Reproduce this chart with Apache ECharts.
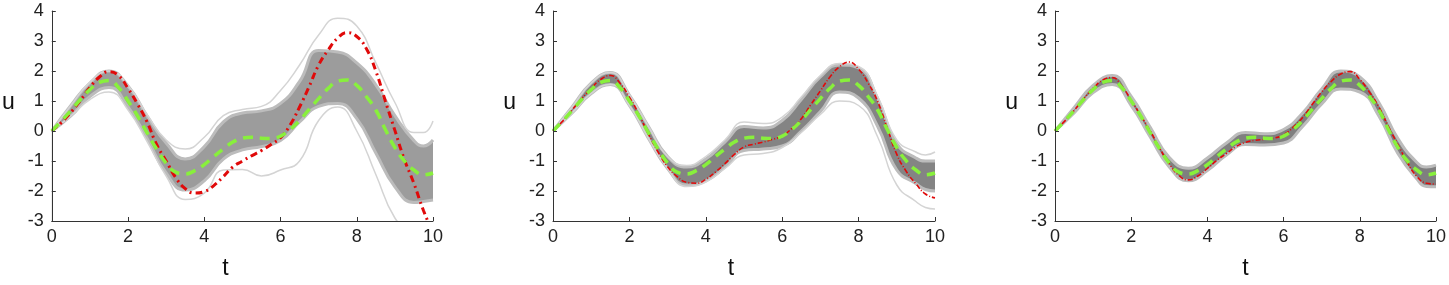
<!DOCTYPE html>
<html><head><meta charset="utf-8">
<script src="https://cdn.jsdelivr.net/npm/echarts@6/dist/echarts.min.js"></script>
<style>html,body{margin:0;padding:0;background:#fff}#c{width:1449px;height:285px}</style>
</head><body><div id="c"></div>
<script>
// fine time grid for the red and green curves
const T = [0,0.25,0.5,0.75,1,1.25,1.5,1.75,2,2.25,2.5,2.75,3,3.25,3.5,3.75,4,4.25,4.5,4.75,5,5.25,5.5,5.75,6,6.25,6.5,6.75,7,7.25,7.5,7.75,8,8.25,8.5,8.75,9,9.25,9.5,9.75,10];
// ensemble mean (green dashed), same in every panel
const meanU = [0,0.33,0.68,1.05,1.38,1.62,1.68,1.45,1.0,0.5,-0.06,-0.6,-1.07,-1.37,-1.43,-1.32,-1.12,-0.85,-0.6,-0.37,-0.24,-0.21,-0.24,-0.25,-0.17,0.05,0.35,0.72,1.08,1.42,1.66,1.7,1.52,1.15,0.7,0.05,-0.55,-1.0,-1.3,-1.46,-1.4];
// red dash-dot curves
const red1 = [0,0.28,0.62,1.02,1.45,1.8,1.98,1.85,1.42,0.9,0.3,-0.45,-1.0,-1.55,-1.92,-2.07,-2.02,-1.82,-1.52,-1.2,-1.0,-0.82,-0.65,-0.45,-0.22,0.2,0.8,1.48,2.2,2.7,3.1,3.28,3.15,2.75,2.0,1.0,0.02,-0.95,-1.75,-2.65,-3.4];
const red2 = [0,0.32,0.7,1.08,1.42,1.72,1.85,1.6,1.13,0.55,-0.11,-0.7,-1.19,-1.52,-1.71,-1.74,-1.61,-1.37,-1.09,-0.78,-0.53,-0.44,-0.37,-0.28,-0.16,0.08,0.41,0.88,1.34,1.8,2.14,2.3,2.06,1.6,0.98,0.1,-0.78,-1.35,-1.76,-2.1,-2.23];
const red3 = [0,0.32,0.68,1.07,1.42,1.7,1.78,1.5,1.03,0.52,0.0,-0.58,-1.1,-1.48,-1.63,-1.5,-1.25,-0.98,-0.75,-0.52,-0.38,-0.31,-0.28,-0.24,-0.12,0.12,0.45,0.88,1.3,1.65,1.9,1.98,1.72,1.3,0.8,0.15,-0.45,-1.05,-1.52,-1.74,-1.77];
// coarser time grid for the gray ensemble
const TB = [0,0.5,1,1.5,2,2.5,3,3.5,4,4.5,5,5.5,6,6.5,7,7.5,8,8.5,9,9.5,9.75,10];
// gray ensemble: dense core band and outermost members
const p1Low = [0,0.5,1.15,1.45,0.8,-0.25,-1.4,-1.97,-1.66,-0.94,-0.63,-0.52,-0.32,0.3,0.82,0.92,0.41,-0.73,-1.86,-2.38,-2.35,-2.3];
const p1High = [0,0.85,1.6,2.0,1.5,0.5,-0.4,-0.93,-0.52,0.3,0.6,0.67,0.92,1.65,2.68,2.63,2.27,1.54,0.51,-0.32,-0.5,-0.3];
const p1OutHigh = [0,0.85,1.62,2.0,1.52,0.55,-0.3,-0.6,-0.21,0.51,0.72,0.82,1.35,2.2,3.2,3.76,3.5,2.27,0.95,-0.05,-0.05,0.33];
const p1OutLow = [0,0.5,1.05,1.3,0.7,-0.35,-1.5,-2.28,-2.07,-1.3,-1.28,-1.5,-1.3,-1.0,0.35,0.8,0.0,-1.45,-2.9,-3.5,-3.8,-3.5];
const p2Low = [0,0.6,1.25,1.55,0.85,-0.25,-1.25,-1.8,-1.66,-1.2,-0.65,-0.6,-0.5,0.0,0.65,1.3,1.1,0.15,-1.3,-1.75,-1.95,-2.0];
const p2High = [0,0.8,1.6,1.95,1.2,0.15,-0.85,-1.2,-0.93,-0.37,0.15,0.1,0.35,1.05,1.8,2.2,2.1,1.08,-0.42,-0.9,-1.0,-1.0];
const p2OutHigh = [0,0.8,1.6,1.95,1.2,0.15,-0.85,-1.15,-0.85,-0.3,0.3,0.25,0.46,1.13,1.85,2.25,2.15,1.15,-0.3,-0.7,-0.8,-0.7];
const p2OutLow = [0,0.6,1.25,1.55,0.85,-0.25,-1.25,-1.85,-1.7,-1.25,-0.8,-0.75,-0.55,-0.05,0.55,1.0,0.85,-0.2,-1.8,-2.35,-2.55,-2.6];
const p3Low = [0,0.6,1.28,1.55,0.85,-0.2,-1.2,-1.66,-1.32,-0.8,-0.45,-0.47,-0.4,0.15,0.9,1.4,1.3,0.5,-0.75,-1.6,-1.85,-1.86];
const p3High = [0,0.78,1.52,1.85,1.15,0.12,-0.88,-1.24,-0.9,-0.4,-0.05,-0.09,0.05,0.6,1.4,2.0,1.8,0.95,-0.25,-1.05,-1.2,-1.14];
// axis ticks
const xTicks = {min:0, max:10, interval:2};
const yTicks = {min:-3, max:4, interval:1};

const pair = (tt, arr) => tt.map((t,i)=>[t,arr[i]]);
const panels = [
  {left:51, tPad:[0,34,0,0], low:p1Low, high:p1High, outHigh:p1OutHigh, outLow:p1OutLow, red:red1, redW:3, redType:[7,4,2,4], fill:'#9c9c9c'},
  {left:553, tPad:[0,26,0,0], low:p2Low, high:p2High, outHigh:p2OutHigh, outLow:p2OutLow, red:red2, redW:1.6, redType:[5,2,1,2], fill:'#848484'},
  {left:1055, tPad:[0,0,0,0], low:p3Low, high:p3High, outHigh:null, outLow:null, red:red3, redW:1.6, redType:[5,2,1,2], fill:'#7f7f7f'}
];
const font = 'Liberation Sans, Arial, Helvetica, sans-serif';
const grid=[], xAxis=[], yAxis=[], series=[];
panels.forEach((p,k)=>{
  grid.push({left:p.left, top:11, width:382, height:226});
  xAxis.push({type:'value', gridIndex:k, z:10, min:xTicks.min, max:xTicks.max, interval:xTicks.interval,
    name:'t', nameLocation:'middle', nameGap:36,
    nameTextStyle:{fontSize:23, color:'#111', fontFamily:font, padding:p.tPad},
    axisLine:{onZero:false, lineStyle:{color:'#333', width:1}}, axisTick:{inside:true, length:4, lineStyle:{color:'#333'}},
    axisLabel:{fontSize:18, color:'#222', margin:7, fontFamily:font}, splitLine:{show:false}});
  yAxis.push({type:'value', gridIndex:k, z:10, min:yTicks.min, max:yTicks.max, interval:yTicks.interval,
    name:'u', nameLocation:'middle', nameGap:37, nameRotate:0,
    nameTextStyle:{fontSize:23, color:'#111', fontFamily:font, verticalAlign:'bottom', lineHeight:26},
    axisLine:{onZero:false, lineStyle:{color:'#333', width:1}}, axisTick:{inside:true, length:4, lineStyle:{color:'#333'}},
    axisLabel:{fontSize:18, color:'#222', margin:8, fontFamily:font}, splitLine:{show:false}});
  const base = {type:'line', xAxisIndex:k, yAxisIndex:k, showSymbol:false, smooth:true, silent:true, animation:false};
  // core band: gray area under upper edge, masked by white area under lower edge
  series.push(Object.assign({}, base, {data:pair(TB,p.high), z:1, lineStyle:{color:'#bcbcbc', width:3}, areaStyle:{color:p.fill, opacity:1, origin:'start'}}));
  series.push(Object.assign({}, base, {data:pair(TB,p.low), z:1, lineStyle:{color:'#bcbcbc', width:3}, areaStyle:{color:'#ffffff', opacity:1, origin:'start'}}));
  if (p.outHigh) {
    series.push(Object.assign({}, base, {data:pair(TB,p.outHigh), z:2, lineStyle:{color:'#d4d4d4', width:1.5}}));
    series.push(Object.assign({}, base, {data:pair(TB,p.outLow), z:2, lineStyle:{color:'#d4d4d4', width:1.5}}));
  }
  series.push(Object.assign({}, base, {data:pair(T,p.red), z:3, lineStyle:{color:'#e00a0a', width:p.redW, type:p.redType}}));
  series.push(Object.assign({}, base, {data:pair(T,meanU), z:4, lineStyle:{color:'#88f03c', width:3.5, type:[10,7]}}));
});
const chart = echarts.init(document.getElementById('c'), null, {renderer:'canvas'});
chart.setOption({animation:false, grid, xAxis, yAxis, series});
</script></body></html>
